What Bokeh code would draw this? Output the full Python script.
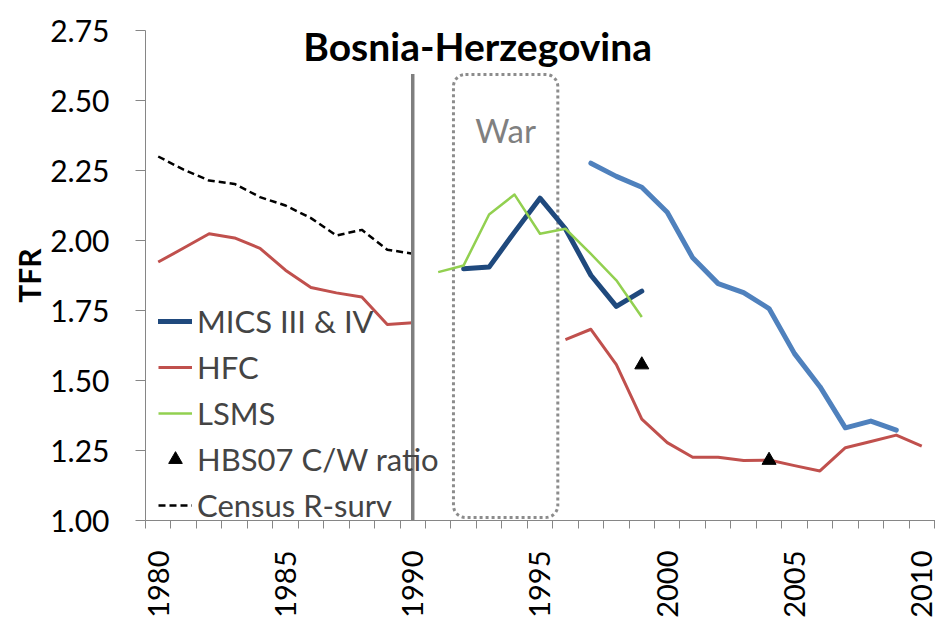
import math
from bokeh.plotting import figure
from bokeh.models import (Range1d, FixedTicker, PrintfTickFormatter, Legend,
                          LegendItem, Label)
from bokeh.embed import file_html
from bokeh.resources import INLINE

# ---------------- data ----------------
census_years = list(range(1980, 1991))
census_tfr = [2.300, 2.253, 2.214, 2.202, 2.155, 2.125, 2.080, 2.018, 2.038, 1.967, 1.953]

hfc_years = list(range(1980, 2011))
hfc_tfr = [1.923, 1.973, 2.024, 2.009, 1.972, 1.894, 1.832, 1.813, 1.798, 1.700, 1.706,
           None, None, None, None, None,
           1.646, 1.683, 1.557, 1.362, 1.278, 1.226, 1.226, 1.214, 1.216, 1.196,
           1.177, 1.260, 1.282, 1.305, 1.266]

mics3_years = list(range(1992, 2000))
mics3_tfr = [1.899, 1.905, 2.030, 2.151, 2.042, 1.876, 1.765, 1.819]

mics4_years = list(range(1997, 2010))
mics4_tfr = [2.276, 2.229, 2.190, 2.101, 1.938, 1.846, 1.814, 1.757, 1.596,
             1.478, 1.331, 1.355, 1.323]

lsms_years = list(range(1991, 2000))
lsms_tfr = [1.887, 1.911, 2.093, 2.164, 2.024, 2.042, 1.952, 1.858, 1.727]

hbs_years = [1999, 2004]
hbs_tfr = [1.556, 1.215]

x_ticks = [1980, 1985, 1990, 1995, 2000, 2005, 2010]
x_minor = [y - 0.5 for y in range(1980, 2012)]
y_ticks = [1.00, 1.25, 1.50, 1.75, 2.00, 2.25, 2.50, 2.75]

divider_year = 1990
war_start, war_end = 1991.6, 1995.7
war_bottom, war_top = 1.011, 2.593

# --------------- figure ---------------
FONT = "Lato"
p = figure(width=935, height=620,
           x_range=Range1d(1979.5, 2010.54), y_range=Range1d(1.0, 2.75),
           output_backend="svg", toolbar_location=None,
           min_border_left=145, min_border_right=0,
           min_border_top=30, min_border_bottom=0)
p.xgrid.visible = False
p.ygrid.visible = False
p.outline_line_color = None
p.background_fill_color = "white"
p.border_fill_color = "white"

axis_gray = "#868686"
# y axis
p.yaxis.ticker = FixedTicker(ticks=y_ticks)
p.yaxis.formatter = PrintfTickFormatter(format="%.2f")
p.yaxis.major_label_text_font = FONT
p.yaxis.major_label_text_font_size = "30px"
p.yaxis.major_label_text_color = "black"
p.yaxis.major_tick_out = 10
p.yaxis.major_tick_in = 0
p.yaxis.minor_tick_out = 0
p.yaxis.minor_tick_in = 0
p.yaxis.axis_line_color = axis_gray
p.yaxis.major_tick_line_color = axis_gray
p.yaxis.major_label_standoff = 26
p.yaxis.axis_label = "TFR"
p.yaxis.axis_label_text_font = FONT
p.yaxis.axis_label_text_font_style = "bold"
p.yaxis.axis_label_text_font_size = "30px"
p.yaxis.axis_label_text_color = "black"
p.yaxis.axis_label_standoff = 0

# x axis
p.xaxis.ticker = FixedTicker(ticks=x_ticks, minor_ticks=x_minor)
p.xaxis.major_label_text_font = FONT
p.xaxis.major_label_text_font_size = "29px"
p.xaxis.major_label_text_color = "black"
p.xaxis.major_tick_out = 0
p.xaxis.major_tick_in = 0
p.xaxis.minor_tick_out = 8
p.xaxis.minor_tick_in = 0
p.xaxis.axis_line_color = axis_gray
p.xaxis.minor_tick_line_color = axis_gray
p.xaxis.major_label_orientation = math.pi / 2
p.xaxis.major_label_standoff = 22

# war box
p.quad(left=[war_start], right=[war_end], bottom=[war_bottom], top=[war_top],
       fill_color=None, line_color="#8C8C8C", line_width=3, line_dash="3 3",
       border_radius=12)
p.add_layout(Label(x=(war_start + war_end) / 2, y=2.394, text="War",
                   text_align="center", text_baseline="alphabetic",
                   text_font=FONT, text_font_size="33px",
                   text_color="#808080"))

# series
nan = float("nan")
r_mics4 = p.line(mics4_years, mics4_tfr, line_color="#4F81BD", line_width=5,
                 line_join="round", line_cap="round")
r_mics3 = p.line(mics3_years, mics3_tfr, line_color="#1F497D", line_width=5,
                 line_join="round", line_cap="round")
r_hfc = p.line(hfc_years, [nan if v is None else v for v in hfc_tfr],
               line_color="#C0504D", line_width=3, line_join="round")
r_lsms = p.line(lsms_years, lsms_tfr, line_color="#92D050", line_width=2.5,
                line_join="round")
r_census = p.line(census_years, census_tfr, line_color="black", line_width=2.5,
                  line_dash="7 4")
r_hbs = p.scatter(hbs_years, hbs_tfr, marker="triangle", size=14,
                  fill_color="black", line_color="black")

# 1990 divider
p.segment(x0=[divider_year], y0=[1.0], x1=[divider_year], y1=[2.595],
          line_color="#7F7F7F", line_width=3.5)

# title
p.add_layout(Label(x=1992.55, y=2.696, text="Bosnia-Herzegovina",
                   text_align="center", text_baseline="alphabetic",
                   text_font=FONT, text_font_style="bold",
                   text_font_size="39px", text_color="black"))

legend = Legend(items=[
    LegendItem(label="MICS III & IV", renderers=[r_mics3]),
    LegendItem(label="HFC", renderers=[r_hfc]),
    LegendItem(label="LSMS", renderers=[r_lsms]),
    LegendItem(label="HBS07 C/W ratio", renderers=[r_hbs]),
    LegendItem(label="Census R-surv", renderers=[r_census]),
], location=(13, -4), padding=0, margin=0, spacing=8,
    glyph_width=34, glyph_height=36, label_height=36, label_standoff=5,
    label_text_font=FONT, label_text_font_size="31px",
    background_fill_alpha=0, border_line_alpha=0)
p.add_layout(legend)

open("out.html", "w").write(file_html(p, INLINE))
